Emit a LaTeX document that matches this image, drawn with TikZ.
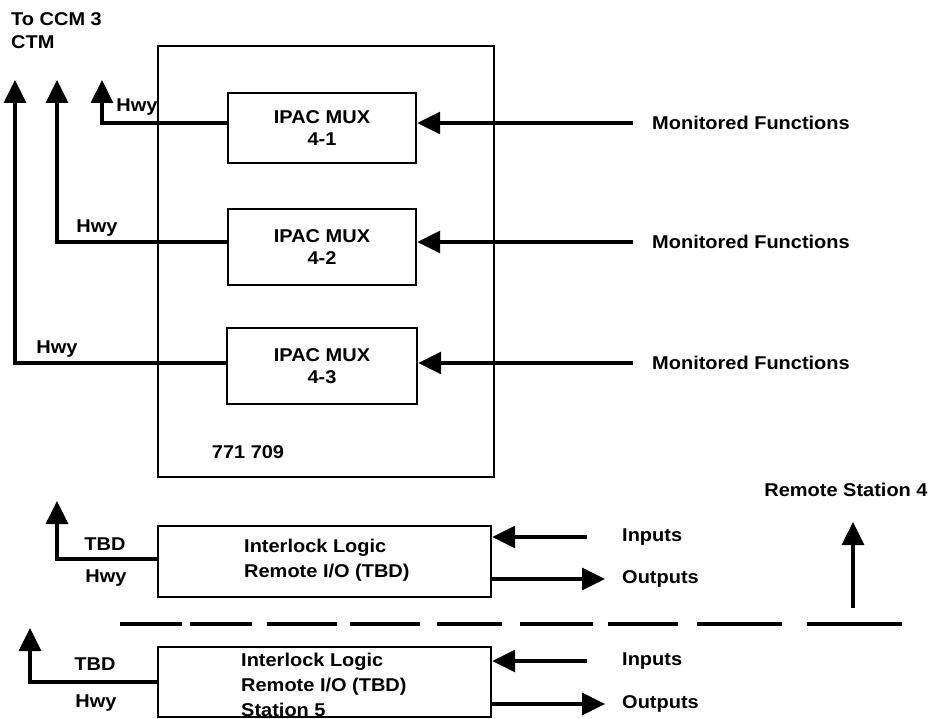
\documentclass[tikz,border=0pt]{standalone}
\usepackage{fontspec}
\setmainfont{Liberation Sans}[FakeStretch=1.08]
\usetikzlibrary{arrows.meta}
\begin{document}
\begin{tikzpicture}[x=1pt,y=-1pt,
  lbl/.style={font=\fontsize{18.5}{25}\selectfont\bfseries, inner sep=0pt},
  box/.style={draw, line width=2.4pt, font=\fontsize{18.5}{22}\selectfont\bfseries, align=center},
  conn/.style={line width=3.2pt},
  arr/.style={conn, -{Triangle[width=22pt,length=23pt]}}
]
\useasboundingbox (0,0) rectangle (931,719);

% main panel
\node[box, line width=2pt, minimum width=336pt, minimum height=431pt] (panel) at (326,261.5) {};
\node[lbl] (pnum) at (248,452) {771 709};

% multiplexers
\node[box, minimum width=188pt, minimum height=70pt] (mux1) at (322,128) {IPAC MUX\\4-1};
\node[box, minimum width=188pt, minimum height=76pt] (mux2) at (322,247) {IPAC MUX\\4-2};
\node[box, minimum width=190pt, minimum height=76pt] (mux3) at (322,366) {IPAC MUX\\4-3};

% highway outputs
\coordinate (t1) at (102,80);
\coordinate (t2) at (57,80);
\coordinate (t3) at (15,80);
\draw[arr] ([yshift=5pt]mux1.west) -| (t1);
\draw[arr] ([yshift=5pt]mux2.west) -| (t2);
\draw[arr] ([yshift=3pt]mux3.west) -| (t3);
\node[lbl] (h1) at (137,107) {Hwy};
\node[lbl] (h2) at (97,228) {Hwy};
\node[lbl] (h3) at (57,349) {Hwy};
\node[lbl, align=left, anchor=north west, font=\fontsize{18.5}{23}\selectfont\bfseries] (ccm) at (11,12) {To CCM 3\\CTM};

% monitored functions
\node[lbl, anchor=west] (mf1) at (652,123) {Monitored Functions};
\node[lbl, anchor=west] (mf2) at (652,242) {Monitored Functions};
\node[lbl, anchor=west] (mf3) at (652,363) {Monitored Functions};
\coordinate (m1) at (633,123);
\coordinate (m2) at (633,242);
\coordinate (m3) at (633,363);
\draw[arr] (m1) -- (mux1.east |- m1);
\draw[arr] (m2) -- (mux2.east |- m2);
\draw[arr] (m3) -- (mux3.east |- m3);

% remote station 4 interlock
\node[box, minimum width=333pt, minimum height=71pt] (il1) at (324.5,561.5) {};
\node[lbl, align=left, anchor=west] (il1t) at (244,560.5) {Interlock Logic\\Remote I/O (TBD)};
\coordinate (t4) at (57,501);
\draw[arr] ([yshift=2.5pt]il1.west) -| (t4);
\node[lbl] (tbd1) at (105,544) {TBD};
\node[lbl] (hw4) at (106,578) {Hwy};
\coordinate (in1) at (587,537);
\coordinate (out1) at (605,579);
\draw[arr] (in1) -- (il1.east |- in1);
\draw[arr] (il1.east |- out1) -- (out1);
\node[lbl, anchor=west] (inl1) at (622,537) {Inputs};
\node[lbl, anchor=west] (outl1) at (622,579) {Outputs};

\node[lbl] (rs4) at (846,490) {Remote Station 4};
\coordinate (r0) at (853,608);
\coordinate (r1) at (853,522);
\draw[arr] (r0) -- (r1);

% separator
\foreach \a/\b in {120/182,190/252,267/337,350/420,437/502,520/593,608/678,697/782,807/902}
  \draw[conn] (\a,624) -- (\b,624);

% station 5 interlock
\node[box, minimum width=333pt, minimum height=70pt] (il2) at (324.5,682) {};
\node[lbl, align=left, anchor=west] (il2t) at (241,685) {Interlock Logic\\Remote I/O (TBD)\\Station 5};
\coordinate (t5) at (30,628);
\draw[arr] (il2.west) -| (t5);
\node[lbl] (tbd2) at (95,664) {TBD};
\node[lbl] (hw5) at (96,703) {Hwy};
\coordinate (in2) at (587,661);
\coordinate (out2) at (605,704);
\draw[arr] (in2) -- (il2.east |- in2);
\draw[arr] (il2.east |- out2) -- (out2);
\node[lbl, anchor=west] (inl2) at (622,661) {Inputs};
\node[lbl, anchor=west] (outl2) at (622,704) {Outputs};
\end{tikzpicture}
\end{document}
